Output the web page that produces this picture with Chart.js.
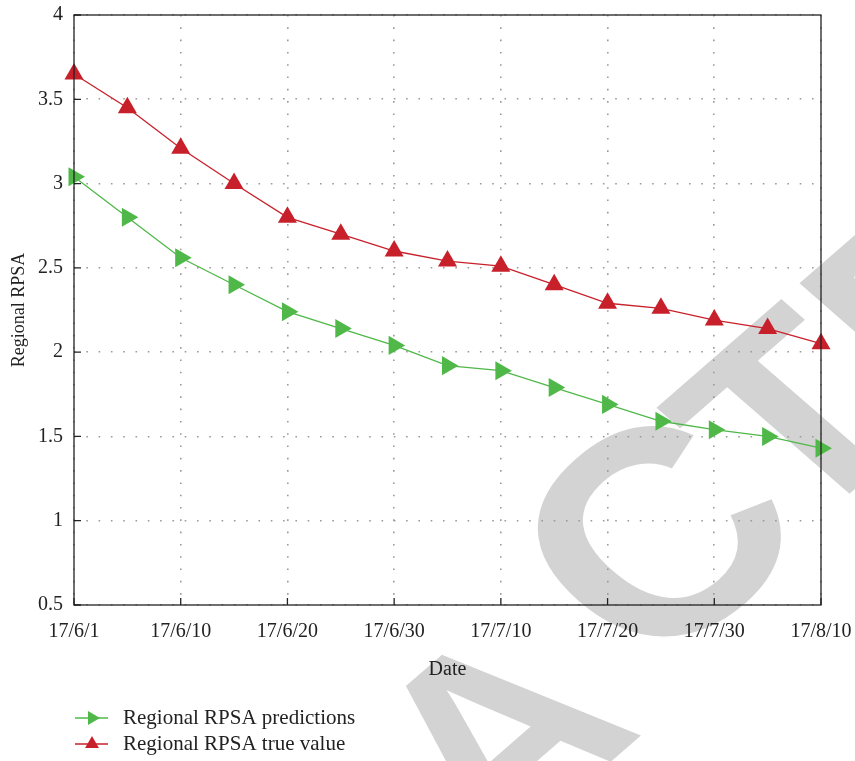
<!DOCTYPE html>
<html>
<head>
<meta charset="utf-8">
<script src="https://cdn.jsdelivr.net/npm/chart.js@4.4.1/dist/chart.umd.min.js"></script>
<style>
  html, body { margin: 0; padding: 0; background: #fff; }
  #wrap { width: 855px; height: 761px; position: relative; }
</style>
</head>
<body>
<div id="wrap"><canvas id="rpsaChart"></canvas></div>
<script>
// =============================================================================
// DATA
// =============================================================================
const xTickLabels = ["17/6/1", "17/6/10", "17/6/20", "17/6/30", "17/7/10", "17/7/20", "17/7/30", "17/8/10"];

const predictions = [3.04, 2.80, 2.56, 2.40, 2.24, 2.14, 2.04, 1.92, 1.89, 1.79, 1.69, 1.59, 1.54, 1.50, 1.43];
const trueValues  = [3.65, 3.45, 3.21, 3.00, 2.80, 2.70, 2.60, 2.54, 2.51, 2.40, 2.29, 2.26, 2.19, 2.14, 2.05];

const seriesLabels = ["Regional RPSA predictions", "Regional RPSA true value"];

const GREEN = "#4fb848";
const RED = "#c8202a";
const TEXT = "#222";
const SERIF = "'Liberation Serif', 'Times New Roman', serif";

function toPoints(arr) {
  return arr.map((y, i) => ({ x: i, y }));
}

// =============================================================================
// PLUGINS
// =============================================================================
// grey "RETRACTED" stamp behind the chart (letters placed one by one)
const stampLetters = [
  // letter, centre along the baseline, baseline offset, font size
  ["R", -1110, 1002, 300], ["E", -900, 1002, 300], ["T", -700, 1002, 300], ["R", -470, 1051, 300],
  ["A", -245, 1051, 300], ["C", 28, 1014, 335], ["T", 221, 1002, 300], ["E", 415, 1002, 300],
  ["D", 625, 1002, 300]
];

const watermark = {
  id: "watermark",
  beforeDraw(chart) {
    const ctx = chart.ctx;
    ctx.save();
    ctx.fillStyle = "#fff";
    ctx.fillRect(0, 0, chart.width, chart.height);
    ctx.fillStyle = "#d3d3d3";
    ctx.textAlign = "center";
    ctx.textBaseline = "alphabetic";
    const k = Math.SQRT1_2;
    stampLetters.forEach(([ch, u, n, size]) => {
      ctx.save();
      ctx.font = `bold ${size}px 'Liberation Sans', Arial, sans-serif`;
      ctx.scale(1, 0.87);
      ctx.translate(k * (u + n), k * (n - u));
      ctx.rotate(-Math.PI / 4);
      ctx.fillText(ch, 0, 0);
      ctx.restore();
    });
    ctx.restore();
  }
};

// full frame + inward tick marks
const frame = {
  id: "frame",
  afterDraw(chart) {
    const { ctx, chartArea: a, scales } = chart;
    ctx.save();
    ctx.strokeStyle = "#222";
    ctx.lineWidth = 1.3;
    ctx.strokeRect(a.left, a.top, a.right - a.left, a.bottom - a.top);
    ctx.beginPath();
    scales.y.ticks.forEach(t => {
      const py = scales.y.getPixelForValue(t.value);
      ctx.moveTo(a.left, py);
      ctx.lineTo(a.left + 7, py);
    });
    scales.x.ticks.forEach(t => {
      const px = scales.x.getPixelForValue(t.value);
      ctx.moveTo(px, a.bottom);
      ctx.lineTo(px, a.bottom - 7);
    });
    ctx.stroke();
    ctx.restore();
  }
};

// stacked legend, bottom left
const stackedLegend = {
  id: "stackedLegend",
  afterDraw(chart) {
    const ctx = chart.ctx;
    ctx.save();
    chart.data.datasets.forEach((ds, i) => {
      const y = 718 + i * 26;
      ctx.strokeStyle = ds.borderColor;
      ctx.lineWidth = 1.3;
      ctx.beginPath();
      ctx.moveTo(75, y);
      ctx.lineTo(108, y);
      ctx.stroke();

      const r = 8;
      const rot = (ds.pointRotation || 0) * Math.PI / 180;
      ctx.fillStyle = ds.pointBackgroundColor;
      ctx.beginPath();
      for (let j = 0; j < 3; j++) {
        const a = rot + j * 2 * Math.PI / 3;
        const px = 92 + Math.sin(a) * r;
        const py = y - Math.cos(a) * r;
        if (j === 0) ctx.moveTo(px, py); else ctx.lineTo(px, py);
      }
      ctx.closePath();
      ctx.fill();

      ctx.fillStyle = TEXT;
      ctx.font = "21px " + SERIF;
      ctx.textBaseline = "middle";
      ctx.fillText(ds.label, 123, y);
    });
    ctx.restore();
  }
};

// =============================================================================
// CHART
// =============================================================================
new Chart(document.getElementById("rpsaChart"), {
  type: "line",
  data: {
    datasets: [
      {
        label: seriesLabels[0],
        data: toPoints(predictions),
        borderColor: GREEN,
        backgroundColor: GREEN,
        pointBackgroundColor: GREEN,
        pointBorderWidth: 0,
        pointStyle: "triangle",
        pointRotation: 90,
        pointRadius: 11,
        borderWidth: 1.3,
        tension: 0
      },
      {
        label: seriesLabels[1],
        data: toPoints(trueValues),
        borderColor: RED,
        backgroundColor: RED,
        pointBackgroundColor: RED,
        pointBorderWidth: 0,
        pointStyle: "triangle",
        pointRotation: 0,
        pointRadius: 11,
        borderWidth: 1.3,
        tension: 0
      }
    ]
  },
  options: {
    responsive: true,
    maintainAspectRatio: false,
    animation: false,
    clip: false,
    layout: { padding: { left: 0, top: 15, right: 34, bottom: 71 } },
    plugins: {
      legend: { display: false },
      tooltip: { enabled: false }
    },
    scales: {
      x: {
        type: "linear",
        min: 0,
        max: 14,
        afterFit(scale) {
          scale.height = 85;
          scale.paddingLeft = 0;
          scale.paddingRight = 0;
        },
        ticks: {
          stepSize: 2,
          padding: 15,
          color: TEXT,
          font: { family: SERIF, size: 20 },
          callback: (v) => xTickLabels[v / 2]
        },
        grid: { color: "#9a9a9a", lineWidth: 1.6, drawTicks: false },
        border: { display: false, dash: [1.6, 10.7] },
        title: {
          display: true,
          text: "Date",
          color: TEXT,
          font: { family: SERIF, size: 20 },
          padding: { top: 0, bottom: 8 }
        }
      },
      y: {
        min: 0.5,
        max: 4,
        afterFit(scale) {
          scale.width = 74;
          scale.paddingTop = 0;
          scale.paddingBottom = 0;
        },
        ticks: {
          stepSize: 0.5,
          padding: 11,
          color: TEXT,
          font: { family: SERIF, size: 20 },
          callback: (v) => String(v)
        },
        grid: { color: "#9a9a9a", lineWidth: 1.6, drawTicks: false },
        border: { display: false, dash: [1.6, 10.7] },
        title: {
          display: true,
          text: "Regional RPSA",
          color: TEXT,
          font: { family: SERIF, size: 18 },
          padding: { top: 8, bottom: 0 }
        }
      }
    }
  },
  plugins: [watermark, frame, stackedLegend]
});
</script>
</body>
</html>
